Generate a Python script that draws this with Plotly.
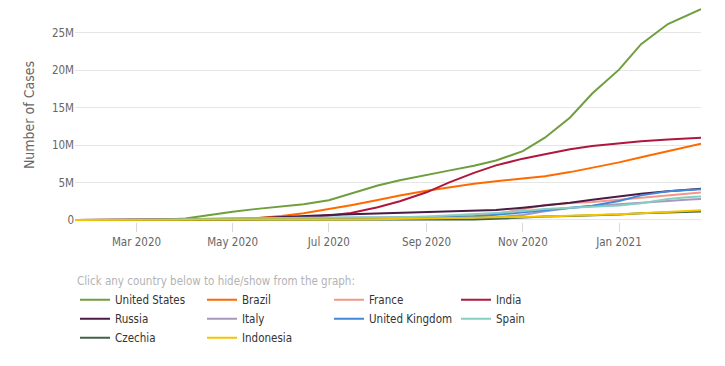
import plotly.graph_objects as go

dates = ["2020-01-22", "2020-02-01", "2020-02-15", "2020-03-01", "2020-03-15", "2020-04-01", "2020-04-15",
         "2020-05-01", "2020-05-15", "2020-06-01", "2020-06-15", "2020-07-01", "2020-07-15",
         "2020-08-01", "2020-08-15", "2020-09-01", "2020-09-15", "2020-10-01", "2020-10-15",
         "2020-11-01", "2020-11-15", "2020-12-01", "2020-12-15", "2021-01-01", "2021-01-15",
         "2021-02-01", "2021-02-15", "2021-02-22"]

# values in millions of cases
united_states = [0, 0, 0, 0.0001, 0.003, 0.21, 0.64, 1.1, 1.45, 1.8, 2.1, 2.65, 3.5, 4.6, 5.3, 6.05, 6.6,
                 7.25, 7.95, 9.2, 11.0, 13.7, 16.9, 20.1, 23.5, 26.2, 27.6, 28.2]
brazil = [0, 0, 0, 0, 0.0002, 0.0067, 0.028, 0.092, 0.22, 0.53, 0.89, 1.45, 1.97, 2.66, 3.28, 3.91, 4.38,
          4.85, 5.17, 5.55, 5.86, 6.4, 6.97, 7.7, 8.39, 9.2, 9.9, 10.2]
france = [0, 0, 0, 0.0001, 0.0055, 0.057, 0.13, 0.17, 0.18, 0.19, 0.195, 0.2, 0.21, 0.23, 0.26, 0.33, 0.42,
          0.58, 0.82, 1.43, 1.99, 2.27, 2.41, 2.7, 2.97, 3.28, 3.55, 3.68]
india = [0, 0, 0, 0, 0.0001, 0.002, 0.012, 0.035, 0.085, 0.19, 0.33, 0.59, 0.94, 1.7, 2.5, 3.7, 5.0,
         6.3, 7.3, 8.2, 8.8, 9.46, 9.9, 10.29, 10.53, 10.76, 10.93, 11.0]
russia = [0, 0, 0, 0, 0.0001, 0.0028, 0.025, 0.114, 0.26, 0.41, 0.53, 0.65, 0.75, 0.85, 0.92, 1.0, 1.07,
          1.18, 1.34, 1.64, 1.93, 2.31, 2.71, 3.16, 3.52, 3.84, 4.07, 4.16]
italy = [0, 0, 0, 0.0017, 0.025, 0.11, 0.165, 0.207, 0.224, 0.233, 0.237, 0.241, 0.244, 0.248, 0.254, 0.27, 0.29,
         0.315, 0.38, 0.68, 1.18, 1.6, 1.86, 2.13, 2.35, 2.55, 2.73, 2.8]
united_kingdom = [0, 0, 0, 0, 0.0011, 0.03, 0.1, 0.18, 0.24, 0.28, 0.3, 0.31, 0.3, 0.305, 0.32, 0.34, 0.38,
                  0.47, 0.69, 1.04, 1.37, 1.65, 1.89, 2.54, 3.29, 3.83, 4.05, 4.12]
spain = [0, 0, 0, 0, 0.0078, 0.104, 0.18, 0.215, 0.23, 0.24, 0.245, 0.25, 0.26, 0.29, 0.35, 0.46, 0.6,
         0.77, 0.94, 1.19, 1.46, 1.65, 1.76, 1.93, 2.25, 2.8, 3.06, 3.13]
czechia = [0, 0, 0, 0, 0.0003, 0.0035, 0.006, 0.0077, 0.0085, 0.0093, 0.0101, 0.012, 0.013, 0.016, 0.019, 0.025,
           0.04, 0.075, 0.16, 0.35, 0.45, 0.53, 0.6, 0.73, 0.9, 1.0, 1.1, 1.15]
indonesia = [0, 0, 0, 0, 0.0001, 0.0017, 0.0051, 0.01, 0.017, 0.027, 0.04, 0.058, 0.08, 0.11, 0.14, 0.18,
             0.23, 0.29, 0.35, 0.41, 0.47, 0.54, 0.63, 0.75, 0.9, 1.08, 1.23, 1.29]

countries = ["United States", "Brazil", "France", "India", "Russia", "Italy", "United Kingdom",
             "Spain", "Czechia", "Indonesia"]
series = [united_states, brazil, france, india, russia, italy, united_kingdom, spain, czechia, indonesia]
colors = ["#6f9e3f", "#ff6a00", "#f3978a", "#b0173c", "#4b1b45", "#a898bf", "#4088d8",
          "#86cec0", "#3d6447", "#f2c500"]

y_ticks = [0, 5, 10, 15, 20, 25]
y_tick_labels = ["0", "5M", "10M", "15M", "20M", "25M"]

FONT = "DejaVu Sans Condensed, Noto Sans, sans-serif"

fig = go.Figure()
for name, vals, col in zip(countries, series, colors):
    fig.add_trace(go.Scatter(
        x=dates, y=[v * 1e6 for v in vals], name=name, mode="lines",
        line=dict(color=col, width=2),
    ))

fig.update_layout(
    width=725, height=366,
    margin=dict(l=67, r=32, t=0, b=152),
    paper_bgcolor="white", plot_bgcolor="white",
    font=dict(family=FONT, size=11.5, color="#666666"),
    showlegend=True,
    legend=dict(
        orientation="h", x=0, xanchor="left", y=-0.226, yanchor="top",
        title=dict(text="Click any country below to hide/show from the graph:", side="top",
                   font=dict(color="#b3b3b3", size=11.5, family=FONT)),
        font=dict(color="#333333", size=11.5, family=FONT),
        entrywidth=82, entrywidthmode="pixels",
        tracegroupgap=0, itemwidth=30,
    ),
    xaxis=dict(
        type="date", range=["2020-01-22", "2021-02-22"],
        tickformat="%b %Y", dtick="M2", tick0="2020-03-01",
        ticks="outside", ticklen=9, tickcolor="#d8d8d8",
        showgrid=False, showline=False, zeroline=False,
        tickfont=dict(color="#666666", size=11.5, family=FONT),
    ),
    yaxis=dict(
        range=[-0.27e6, 28.34e6],
        tickvals=[v * 1e6 for v in y_ticks], ticktext=y_tick_labels,
        showgrid=True, gridcolor="#e6e6e6", gridwidth=1, zeroline=False,
        title=dict(text="Number of Cases", font=dict(color="#666666", size=14, family=FONT), standoff=14),
        tickfont=dict(color="#666666", size=11.5, family=FONT),
    ),
)

fig.write_html("out.html")
